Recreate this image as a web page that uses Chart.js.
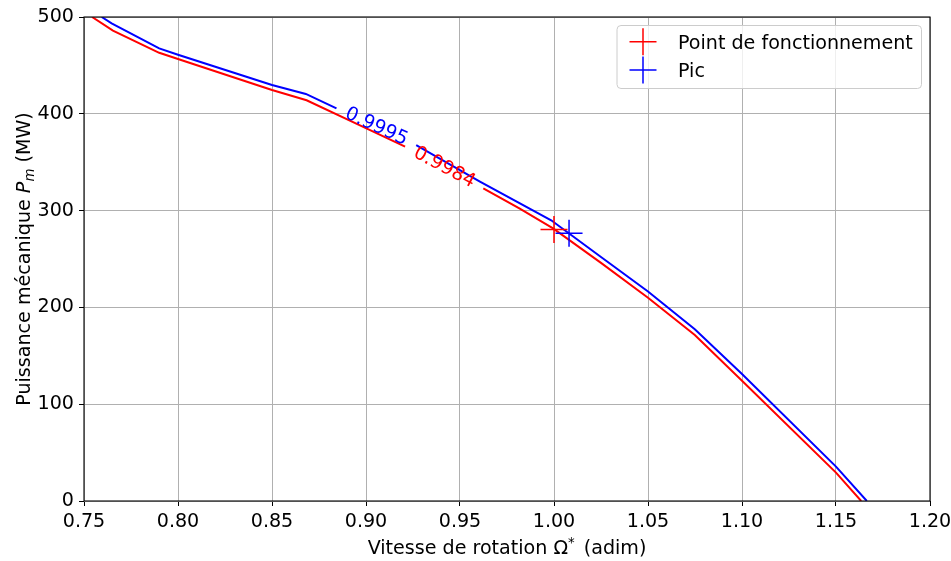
<!DOCTYPE html>
<html>
<head>
<meta charset="utf-8">
<script src="https://cdn.jsdelivr.net/npm/chart.js@4.4.0/dist/chart.umd.min.js"></script>
<style>
  html, body { margin: 0; padding: 0; background: #fff; }
</style>
</head>
<body>
<canvas id="chart" width="951" height="561"></canvas>
<script>
// Iso-rendement contours Pm(Omega*), each split in two where the inline label sits
const redLevel = '0.9984';
const redX1 = [0.7543, 0.7654, 0.790, 0.800, 0.850, 0.8684, 0.8968, 0.9208];
const redY1 = [500, 486, 463, 456.6, 424.6, 414, 388, 366];
const redX2 = [0.9624, 0.9818, 0.9995, 1.025, 1.050, 1.0749, 1.100, 1.150, 1.1634];
const redY2 = [323, 302, 281.6, 246, 210, 171.5, 124.3, 29.3, 0];

const blueLevel = '0.9995';
const blueX1 = [0.7594, 0.7647, 0.790, 0.800, 0.850, 0.868, 0.8843];
const blueY1 = [500, 493.5, 467.6, 461, 429.7, 420.5, 405.6];
const blueX2 = [0.9267, 0.9606, 0.9985, 1.025, 1.050, 1.0749, 1.100, 1.150, 1.1664];
const blueY2 = [367.6, 330, 290, 252, 216.5, 177.4, 131.2, 35.5, 0];

// Markers
const opPoint = [1.000, 280.6];   // Point de fonctionnement
const peakPoint = [1.008, 276.5]; // Pic

const xTicks = [0.75, 0.80, 0.85, 0.90, 0.95, 1.00, 1.05, 1.10, 1.15, 1.20];
const yTicks = [0, 100, 200, 300, 400, 500];

const RED = '#ff0000';
const BLUE = '#0000ff';
const FONT = 'DejaVu Sans';
const FS = 19.1;

Chart.defaults.font.family = FONT;
Chart.defaults.font.size = FS;
Chart.defaults.color = '#000';

const pts = (xs, ys) => xs.map((x, i) => ({ x: x, y: ys[i] }));

function lineSet(xs, ys, color) {
    return {
        data: pts(xs, ys),
        showLine: true,
        borderColor: color,
        borderWidth: 2,
        pointRadius: 0,
        fill: false,
        order: 3
    };
}

function markerSet(p, color) {
    return {
        data: [{ x: p[0], y: p[1] }],
        pointStyle: 'cross',
        pointRadius: 13.5,
        borderColor: color,
        backgroundColor: color,
        borderWidth: 1.5,
        order: 1
    };
}

// draws frame, inline contour labels, legend and axis titles
const decor = {
    id: 'decor',
    afterDatasetsDraw(chart) {
        const ctx = chart.ctx;
        const a = chart.chartArea;
        const xs = chart.scales.x, ys = chart.scales.y;

        // inline contour labels, centred in the gap and rotated along it
        const labels = [
            [blueLevel, blueX1, blueY1, blueX2, blueY2, BLUE],
            [redLevel, redX1, redY1, redX2, redY2, RED]
        ];
        labels.forEach(([txt, x1, y1, x2, y2, col]) => {
            const px0 = xs.getPixelForValue(x1[x1.length - 1]);
            const py0 = ys.getPixelForValue(y1[y1.length - 1]);
            const px1 = xs.getPixelForValue(x2[0]);
            const py1 = ys.getPixelForValue(y2[0]);
            ctx.save();
            ctx.translate((px0 + px1) / 2, (py0 + py1) / 2);
            ctx.rotate(Math.atan2(py1 - py0, px1 - px0));
            ctx.font = FS + 'px ' + FONT;
            ctx.fillStyle = col;
            ctx.textAlign = 'center';
            ctx.textBaseline = 'middle';
            ctx.fillText(txt, 0, 0);
            ctx.restore();
        });

        // frame
        ctx.save();
        ctx.strokeStyle = '#000';
        ctx.lineWidth = 1.1;
        ctx.strokeRect(a.left, a.top, a.right - a.left, a.bottom - a.top);
        ctx.restore();

        // legend
        ctx.save();
        ctx.beginPath();
        ctx.roundRect(617, 25.5, 304.5, 63, 4);
        ctx.fillStyle = 'rgba(255,255,255,0.8)';
        ctx.fill();
        ctx.strokeStyle = '#cccccc';
        ctx.lineWidth = 1;
        ctx.stroke();
        const rows = [['Point de fonctionnement', RED, 41.7], ['Pic', BLUE, 70]];
        rows.forEach(([txt, col, cy]) => {
            ctx.strokeStyle = col;
            ctx.lineWidth = 1.5;
            ctx.beginPath();
            ctx.moveTo(643 - 13.5, cy); ctx.lineTo(643 + 13.5, cy);
            ctx.moveTo(643, cy - 13.5); ctx.lineTo(643, cy + 13.5);
            ctx.stroke();
            ctx.fillStyle = '#000';
            ctx.font = FS + 'px ' + FONT;
            ctx.textBaseline = 'alphabetic';
            ctx.textAlign = 'left';
            ctx.fillText(txt, 678, cy + 6.8);
        });
        ctx.restore();

        // x title: Vitesse de rotation Ω* (adim)
        ctx.save();
        ctx.fillStyle = '#000';
        const normal = FS + 'px ' + FONT;
        const small = (FS * 0.7) + 'px ' + FONT;
        const xParts = [
            ['Vitesse de rotation Ω', normal, 0],
            ['*', small, -7.5],
            [' (adim)', normal, 0]
        ];
        let tw = 0;
        xParts.forEach(([t, f]) => { ctx.font = f; tw += ctx.measureText(t).width; });
        tw += 3;
        let cx = (a.left + a.right) / 2 - tw / 2;
        ctx.textBaseline = 'alphabetic';
        ctx.textAlign = 'left';
        xParts.forEach(([t, f, dy], i) => {
            ctx.font = f;
            ctx.fillText(t, cx, 554 + dy);
            cx += ctx.measureText(t).width + (i === 1 ? 3 : 0);
        });
        ctx.restore();

        // y title: Puissance mécanique P_m (MW)
        ctx.save();
        ctx.translate(29.5, (a.top + a.bottom) / 2);
        ctx.rotate(-Math.PI / 2);
        ctx.fillStyle = '#000';
        const ital = 'italic ' + FS + 'px ' + FONT;
        const italSmall = 'italic ' + (FS * 0.7) + 'px ' + FONT;
        const yParts = [
            ['Puissance mécanique ', normal, 0],
            ['P', ital, 0],
            ['m', italSmall, 4],
            [' (MW)', normal, 0]
        ];
        tw = 0;
        yParts.forEach(([t, f]) => { ctx.font = f; tw += ctx.measureText(t).width; });
        let lx = -tw / 2;
        ctx.textBaseline = 'alphabetic';
        ctx.textAlign = 'left';
        yParts.forEach(([t, f, dy]) => {
            ctx.font = f;
            ctx.fillText(t, lx, dy);
            lx += ctx.measureText(t).width;
        });
        ctx.restore();
    }
};

new Chart(document.getElementById('chart'), {
    type: 'scatter',
    data: {
        datasets: [
            markerSet(peakPoint, BLUE),
            markerSet(opPoint, RED),
            lineSet(redX1, redY1, RED),
            lineSet(redX2, redY2, RED),
            lineSet(blueX1, blueY1, BLUE),
            lineSet(blueX2, blueY2, BLUE)
        ]
    },
    options: {
        responsive: false,
        animation: false,
        devicePixelRatio: 1,
        layout: { padding: { top: 17, right: 21, left: 0, bottom: 0 } },
        plugins: { legend: { display: false }, tooltip: { enabled: false } },
        scales: {
            x: {
                type: 'linear',
                min: xTicks[0],
                max: xTicks[xTicks.length - 1],
                afterFit: s => { s.height = 60; s.paddingLeft = 0; s.paddingRight = 0; },
                afterBuildTicks: s => { s.ticks = xTicks.map(v => ({ value: v })); },
                ticks: {
                    callback: v => v.toFixed(2),
                    padding: 5,
                    maxRotation: 0,
                    autoSkip: false,
                    color: '#000'
                },
                grid: { color: '#b0b0b0', lineWidth: 1, tickColor: '#000', tickLength: 5 },
                border: { display: false }
            },
            y: {
                type: 'linear',
                min: yTicks[0],
                max: yTicks[yTicks.length - 1],
                afterFit: s => { s.width = 84; s.paddingTop = 0; s.paddingBottom = 0; },
                afterBuildTicks: s => { s.ticks = yTicks.map(v => ({ value: v })); },
                ticks: {
                    callback: v => String(v),
                    padding: 5,
                    autoSkip: false,
                    color: '#000'
                },
                grid: { color: '#b0b0b0', lineWidth: 1, tickColor: '#000', tickLength: 5 },
                border: { display: false }
            }
        }
    },
    plugins: [decor]
});
</script>
</body>
</html>
